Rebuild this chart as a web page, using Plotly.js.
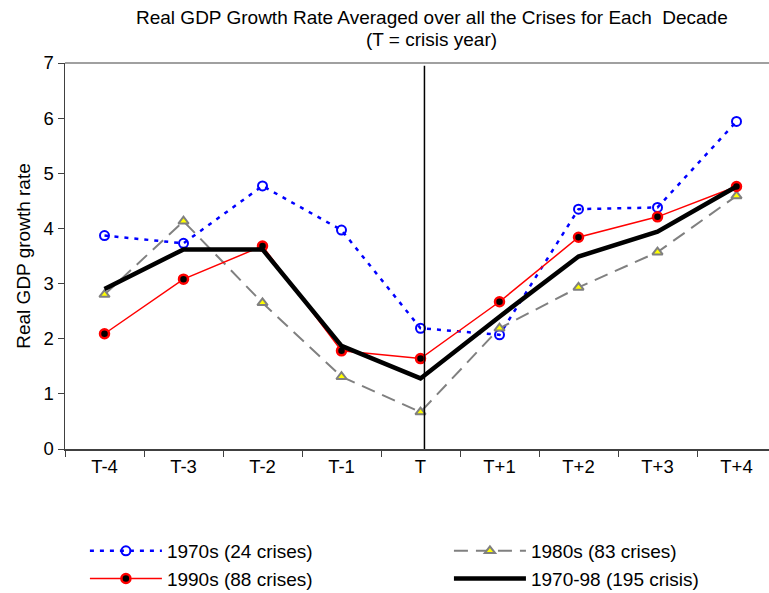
<!DOCTYPE html>
<html>
<head>
<meta charset="utf-8">
<script src="https://cdn.plot.ly/plotly-3.0.1.min.js"></script>
<style>
html, body { margin: 0; padding: 0; overflow: hidden; background: #fff; }
#chart { width: 780px; height: 593px; }
</style>
</head>
<body>
<div id="chart"></div>
<script>
const categories = ['T-4', 'T-3', 'T-2', 'T-1', 'T', 'T+1', 'T+2', 'T+3', 'T+4'];
const s1970s = [3.87, 3.73, 4.77, 3.97, 2.19, 2.07, 4.35, 4.38, 5.94];
const s1980s = [2.80, 4.13, 2.65, 1.31, 0.67, 2.19, 2.93, 3.57, 4.59];
const s1990s = [2.09, 3.08, 3.68, 1.78, 1.64, 2.67, 3.84, 4.21, 4.76];
const sAll = [2.90, 3.62, 3.62, 1.87, 1.28, 2.40, 3.49, 3.94, 4.76];
const names = ['1970s (24 crises)', '1980s (83 crises)', '1990s (88 crises)', '1970-98 (195 crisis)'];

const font = 'Liberation Sans, Arial, sans-serif';

const traces = [
  {
    x: categories, y: s1970s, name: names[0], type: 'scatter', mode: 'lines+markers', legend: 'legend',
    line: { color: '#0000FF', width: 2.5, dash: '4px,6px' },
    marker: { symbol: 'circle-open', size: 9, color: '#0000FF', line: { width: 2, color: '#0000FF' } }
  },
  {
    x: categories, y: s1980s, name: names[1], type: 'scatter', mode: 'lines+markers', legend: 'legend2',
    line: { color: '#808080', width: 2, dash: '14px,8px' },
    marker: { symbol: 'triangle-up', size: 9, color: '#FFFF00', line: { width: 2, color: '#808080' } }
  },
  {
    x: categories, y: s1990s, name: names[2], type: 'scatter', mode: 'lines+markers', legend: 'legend',
    line: { color: '#FF0000', width: 1.5 },
    marker: { symbol: 'circle', size: 9, color: '#000000', line: { width: 2.5, color: '#FF0000' } }
  },
  {
    x: categories, y: sAll, name: names[3], type: 'scatter', mode: 'lines', legend: 'legend2',
    line: { color: '#000000', width: 4.5 }
  }
];

const legendBase = {
  orientation: 'v', y: -0.215, xanchor: 'left', yanchor: 'top',
  itemwidth: 72, font: { family: font, size: 19, color: '#000' },
  bgcolor: 'rgba(0,0,0,0)', traceorder: 'normal', tracegroupgap: 0
};

const layout = {
  width: 780, height: 593,
  margin: { l: 65, r: 4, t: 63, b: 144, autoexpand: false },
  paper_bgcolor: '#fff', plot_bgcolor: '#fff',
  font: { family: font, color: '#000', size: 19 },
  showlegend: true,
  legend: Object.assign({}, legendBase, { x: 0.028 }),
  legend2: Object.assign({}, legendBase, { x: 0.540 }),
  xaxis: {
    type: 'category', range: [-0.5, 8.5],
    showline: true, linecolor: '#404040', linewidth: 1.5,
    ticks: 'outside', tickson: 'boundaries', ticklen: 6, tickcolor: '#404040', tickwidth: 1,
    showgrid: false, zeroline: false,
    tickfont: { family: font, size: 18.5, color: '#000' }
  },
  yaxis: {
    range: [0, 7], dtick: 1, tick0: 0,
    showline: true, linecolor: '#404040', linewidth: 1.5,
    ticks: 'outside', ticklen: 6, tickcolor: '#404040', tickwidth: 1,
    showgrid: false, zeroline: false,
    tickfont: { family: font, size: 18.5, color: '#000' },
    title: { text: 'Real GDP growth rate', font: { family: font, size: 19, color: '#000' }, standoff: 8 }
  },
  shapes: [
    { type: 'line', xref: 'paper', yref: 'paper', x0: 0, x1: 1, y0: 1, y1: 1,
      line: { color: '#808080', width: 1.5 } },
    { type: 'line', xref: 'x', yref: 'y', x0: 4.05, x1: 4.05, y0: 0, y1: 6.95,
      line: { color: '#000', width: 1.5 } }
  ],
  annotations: [
    { text: 'Real GDP Growth Rate Averaged over all the Crises for Each\u00a0 Decade',
      xref: 'paper', yref: 'paper', x: 0.516, y: 1.119, xanchor: 'center', yanchor: 'middle',
      showarrow: false, font: { family: font, size: 19, color: '#000' } },
    { text: '(T = crisis year)',
      xref: 'paper', yref: 'paper', x: 0.516, y: 1.0596, xanchor: 'center', yanchor: 'middle',
      showarrow: false, font: { family: font, size: 19, color: '#000' } }
  ]
};

Plotly.newPlot('chart', traces, layout, { displayModeBar: false, staticPlot: true });
</script>
</body>
</html>
